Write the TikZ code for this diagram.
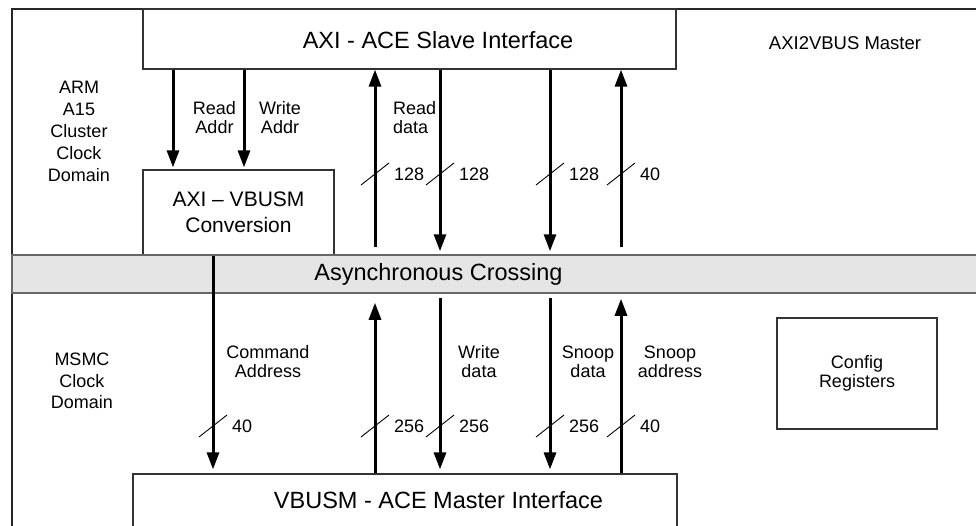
\documentclass[tikz,border=0pt]{standalone}
\usepackage{fontspec}
\setmainfont{Liberation Sans}
\usepackage{tikz}
\usetikzlibrary{positioning,arrows.meta}
\tikzset{
    block/.style={draw=black!80, line width=1.2pt, fill=white, inner sep=0pt},
    title_font/.style={font=\fontsize{23.5}{28}\selectfont, inner sep=0pt},
    label_font/.style={font=\fontsize{18}{19}\selectfont, align=center, inner sep=0pt},
    bus/.style={line width=3pt, -{Triangle[width=12pt, length=17pt]}},
    % Bus width marker: slash across the bus with its width written beside it
    bus_width/.pic={
        \draw[line width=0.9pt] (-14,11) -- (14,-11);
        \node[anchor=west, font=\fontsize{18}{19}\selectfont, inner sep=0pt] (-lbl) at (19,0) {#1};
    },
}
\begin{document}
\begin{tikzpicture}[x=1pt, y=-1pt]
    \useasboundingbox (0,0) rectangle (976,525);
    \clip (0,0) rectangle (976,525);
    % Outer frame (runs off the right and bottom)
    \draw[line width=1.5pt, black!85] (12,560) rectangle (1000,9);

    % Upper (ARM A15) clock domain
    \node[block, minimum width=533pt, minimum height=60pt] (slave) at (409.5,39) {};
    \node[title_font] (slave_txt) at (438,40) {AXI - ACE Slave Interface};
    \node[label_font, font=\fontsize{18.5}{20}\selectfont] (master_name) at (845,43) {AXI2VBUS Master};
    \node[label_font, font=\fontsize{18}{22}\selectfont] (arm_domain) at (79,131) {ARM\\A15\\Cluster\\Clock\\Domain};
    \node[block, minimum width=191pt, minimum height=85pt, align=center,
          font=\fontsize{21}{26}\selectfont] (conv) at (238.5,212.5) {AXI -- VBUSM\\Conversion};

    % Asynchronous crossing bar
    \node[draw=black!60, fill=black!10, line width=1.5pt, minimum width=978pt, minimum height=38pt,
          inner sep=0pt] (bar) at (501,274) {};
    \node[title_font] (bar_txt) at (438.5,274) {Asynchronous Crossing};

    % Lower (MSMC) clock domain
    \node[label_font, font=\fontsize{18}{21.5}\selectfont] (msmc_domain) at (82,381) {MSMC\\Clock\\Domain};
    \node[block, minimum width=544pt, minimum height=86pt] (master) at (405,517) {};
    \node[title_font] (master_txt) at (438.5,500) {VBUSM - ACE Master Interface};
    \node[block, minimum width=160pt, minimum height=111pt, label_font] (config) at (857,373.5) {Config\\Registers};

    % Bus columns
    \coordinate (col_ra)  at (173,0);
    \coordinate (col_wa)  at (244,0);
    \coordinate (col_cmd) at (213,0);
    \coordinate (col_a)   at (375,0);
    \coordinate (col_b)   at (440,0);
    \coordinate (col_c)   at (550,0);
    \coordinate (col_d)   at (621,0);

    % Upper buses
    \draw[bus, shorten >=2pt] (col_ra |- slave.south) -- (col_ra |- conv.north);
    \draw[bus, shorten >=2pt] (col_wa |- slave.south) -- (col_wa |- conv.north);
    \draw[bus, shorten <=7pt] (col_a |- bar.north) -- (col_a |- slave.south);
    \draw[bus, shorten >=3pt] (col_b |- slave.south) -- (col_b |- bar.north);
    \draw[bus, shorten >=3pt] (col_c |- slave.south) -- (col_c |- bar.north);
    \draw[bus, shorten <=7pt] (col_d |- bar.north) -- (col_d |- slave.south);

    \node[label_font] (raddr_txt) at (214.5,117.5) {Read\\Addr};
    \node[label_font] (waddr_txt) at (280,117.5) {Write\\Addr};
    \node[label_font, align=left, anchor=west] (rdata_txt) at (393,118) {Read\\data};

    \pic (w1) at (375,174) {bus_width=128};
    \pic (w2) at (440,174) {bus_width=128};
    \pic (w3) at (550,174) {bus_width=128};
    \pic (w4) at (621,174) {bus_width=40};

    % Lower buses
    \draw[bus, shorten >=4pt] (col_cmd |- conv.south) -- (col_cmd |- master.north);
    \draw[bus, shorten >=9pt] (col_a |- master.north) -- (col_a |- bar.south);
    \draw[bus, shorten <=4pt, shorten >=4pt] (col_b |- bar.south) -- (col_b |- master.north);
    \draw[bus, shorten <=4pt, shorten >=4pt] (col_c |- bar.south) -- (col_c |- master.north);
    \draw[bus, shorten >=5pt] (col_d |- master.north) -- (col_d |- bar.south);

    \node[label_font] (cmd_txt)    at (268,361.5) {Command\\Address};
    \node[label_font] (wdata_txt)  at (479,361.5) {Write\\data};
    \node[label_font] (sdata_txt)  at (588,362) {Snoop\\data};
    \node[label_font] (saddr_txt)  at (670,362) {Snoop\\address};

    \pic (w5) at (213,426) {bus_width=40};
    \pic (w6) at (375,426) {bus_width=256};
    \pic (w7) at (440,426) {bus_width=256};
    \pic (w8) at (550,426) {bus_width=256};
    \pic (w9) at (621,426) {bus_width=40};
\end{tikzpicture}
\end{document}
